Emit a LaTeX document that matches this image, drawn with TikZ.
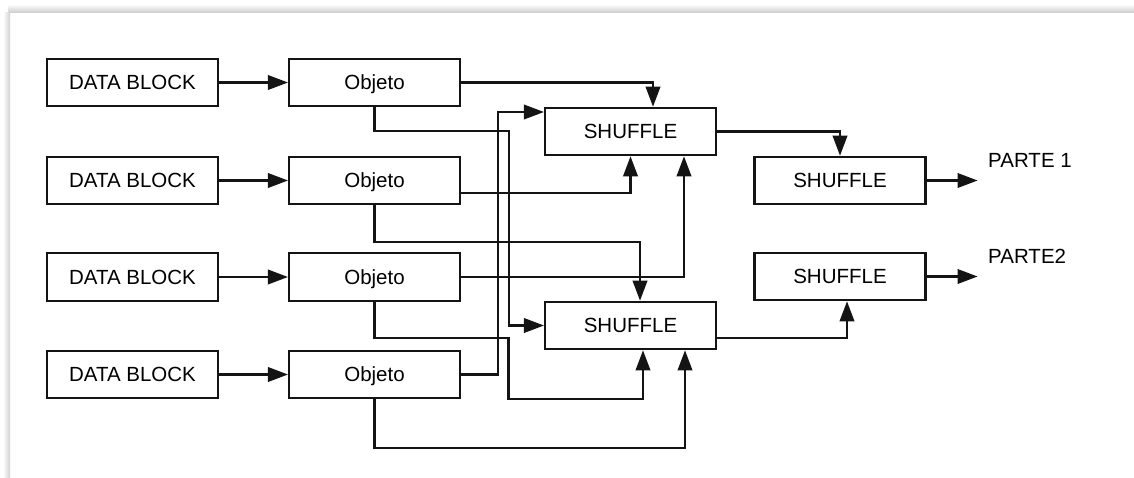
\documentclass[tikz,border=0pt]{standalone}
\usepackage{fontspec}
\setmainfont{Liberation Sans}
\usetikzlibrary{arrows.meta,calc}
\begin{document}
\begin{tikzpicture}[x=1pt,y=-1pt,
  blk/.style={draw=black!92, line width=2.1pt, minimum width=171pt, minimum height=47.5pt,
              inner sep=0pt, text height=14.7pt, text depth=0pt,
              font=\fontsize{20.5}{24}\selectfont},
  link/.style={line width=2.1pt, draw=black!92, -{Triangle[length=20pt,width=14.5pt]}},
  lbl/.style={inner sep=0pt, anchor=west, text height=14.7pt, text depth=0pt,
              font=\fontsize{20.5}{24}\selectfont}]

\useasboundingbox (0,0) rectangle (1134,477);
\fill[white] (0,0) rectangle (1134,477);
% card edge shadow
\shade[top color=white, bottom color=black!18] (8,4) rectangle (1134,12);
\shade[left color=white, right color=black!18] (3,12) rectangle (10,477);

% input blocks
\node[blk] (d1) at (132.5,82.5)  {DATA BLOCK};
\node[blk] (d2) at (132.5,180.5) {DATA BLOCK};
\node[blk] (d3) at (132.5,277)   {DATA BLOCK};
\node[blk] (d4) at (132.5,374.5) {DATA BLOCK};

\node[blk] (o1) at (374.5,82.5)  {Objeto};
\node[blk] (o2) at (374.5,180.5) {Objeto};
\node[blk] (o3) at (374.5,277)   {Objeto};
\node[blk] (o4) at (374.5,374.5) {Objeto};

% shuffle stages
\node[blk] (s1) at (630.5,131.5) {SHUFFLE};
\node[blk] (s2) at (630.5,325.5) {SHUFFLE};
\node[blk] (r1) at (840,180.5)   {SHUFFLE};
\node[blk] (r2) at (840,276.5)   {SHUFFLE};

\node[lbl] (t1) at (988,160)   {PARTE 1};
\node[lbl] (t2) at (988,256.5) {PARTE2};

% data block -> objeto
\foreach \i in {1,2,3,4} \draw[link] (d\i.east) -- (o\i.west);

% objeto -> first shuffle stage
\draw[link] (o1.east) -| ($(s1.north)+(22.5,0)$);
\draw[link] (o1.south) -- ($(o1.south)+(0,24)$) -| ($(s2.west)+(-35,0)$) -- (s2.west);
\draw[link] ($(o2.east)+(0,12.5)$) -| (s1.south);
\draw[link] (o2.south) -- ($(o2.south)+(0,36.5)$) -| ($(s2.north)+(9.5,0)$);
\draw[link] (o3.east) -| ($(s1.south)+(53.5,0)$);
\draw[link] (o3.south) -- ($(o3.south)+(0,36.5)$) -| ++(134,61) -| ($(s2.south)+(12.5,0)$);
\draw[link] (o4.east) -| ($(s1.west)+(-46,-19.5)$) -- ($(s1.west)+(0,-19.5)$);
\draw[link] (o4.south) -- ($(o4.south)+(0,49)$) -| ($(s2.south)+(54.5,0)$);

% second shuffle stage
\draw[link] (s1.east) -| (r1.north);
\draw[link] ($(s2.east)+(0,12.5)$) -| ($(r2.south)+(7,0)$);

% outputs
\draw[link] (r1.east) -- ($(r1.east)+(51,0)$);
\draw[link] (r2.east) -- ($(r2.east)+(51,0)$);
\end{tikzpicture}
\end{document}
